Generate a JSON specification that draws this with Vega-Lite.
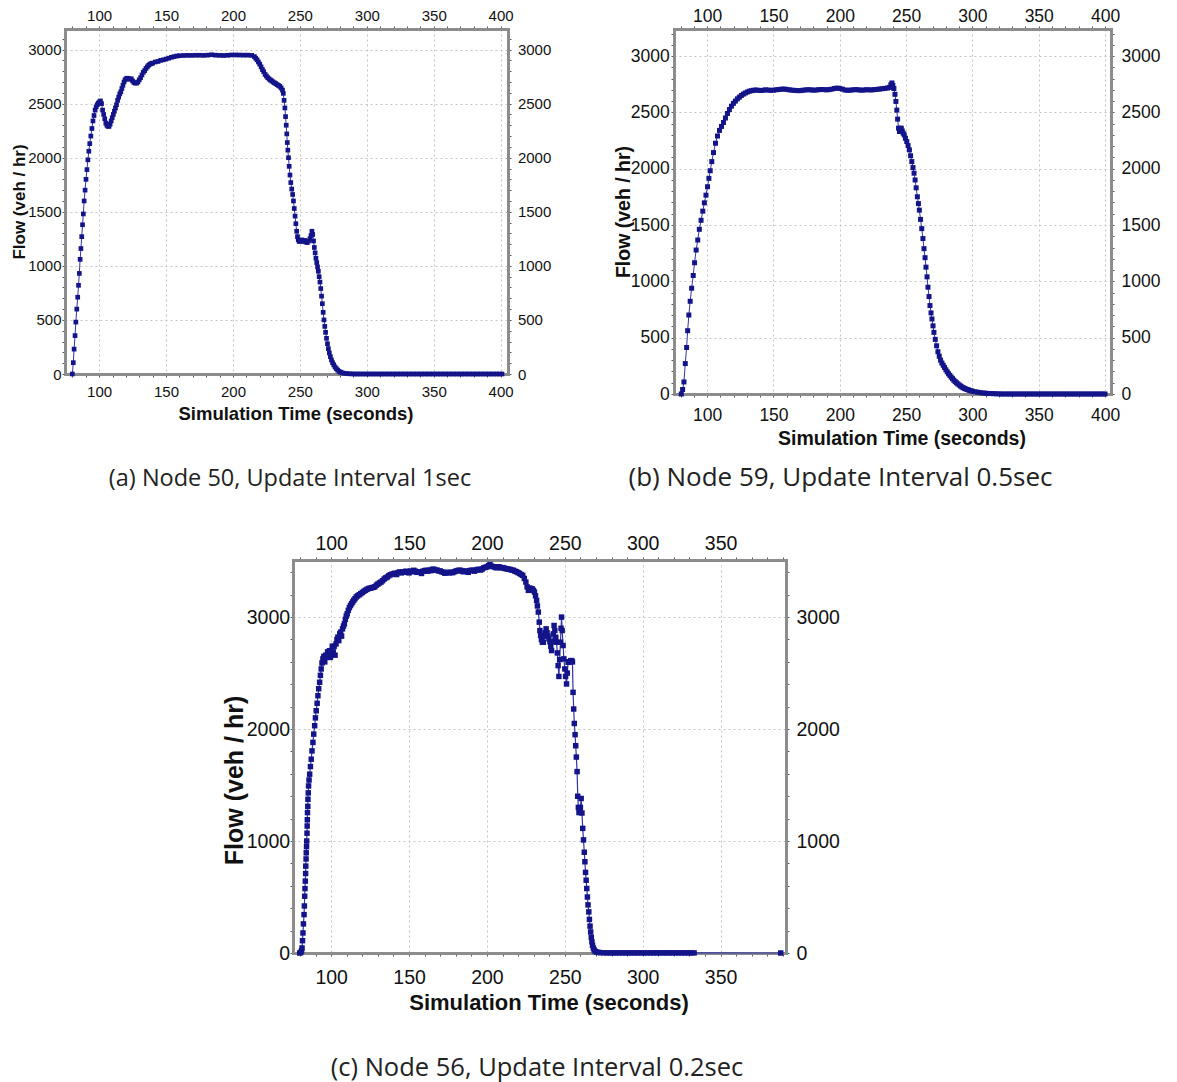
{
"$schema": "https://vega.github.io/schema/vega-lite/v6.json",
"background": "white",
"padding": {"left": 10, "top": 7, "right": 5, "bottom": 5},
"config": {
 "view": {"stroke": null},
 "axis": {"domainColor": "#8c8c8c", "domainWidth": 3, "domainCap": "square", "gridColor": "#c4c4c4", "gridDash": [2, 3], "gridWidth": 1, "tickColor": "#555555", "tickSize": 3, "tickWidth": 1, "labelColor": "#111111", "labelFont": "Liberation Sans", "titleFont": "Liberation Sans", "titleFontWeight": "bold", "titleColor": "#111111", "labelOverlap": false, "labelFlush": false, "format": "d"},
 "title": {"font": "Open Sans", "fontWeight": "normal", "color": "#222222", "fontSize": 22, "orient": "bottom", "anchor": "middle", "frame": "group"}
},
"datasets": {
"a": [{"t":80,"f":0},{"t":80.7,"f":105},{"t":81.3,"f":230},{"t":82,"f":355},{"t":82.6,"f":480},{"t":83.3,"f":600},{"t":84,"f":710},{"t":84.6,"f":820},{"t":85.2,"f":930},{"t":85.8,"f":1060},{"t":86.4,"f":1160},{"t":87,"f":1270},{"t":87.6,"f":1380},{"t":88.2,"f":1480},{"t":88.8,"f":1600},{"t":89.5,"f":1700},{"t":90.2,"f":1800},{"t":90.9,"f":1890},{"t":91.6,"f":1980},{"t":92.3,"f":2060},{"t":93,"f":2130},{"t":93.8,"f":2200},{"t":94.6,"f":2270},{"t":95.4,"f":2340},{"t":96.2,"f":2390},{"t":97,"f":2440},{"t":97.8,"f":2470},{"t":98.6,"f":2490},{"t":99.4,"f":2505},{"t":100.2,"f":2515},{"t":101,"f":2525},{"t":101.8,"f":2500},{"t":102.6,"f":2440},{"t":103.4,"f":2400},{"t":104.2,"f":2360},{"t":105,"f":2320},{"t":105.8,"f":2300},{"t":106.6,"f":2290},{"t":107.4,"f":2290},{"t":108.2,"f":2310},{"t":109,"f":2340},{"t":109.8,"f":2370},{"t":110.6,"f":2400},{"t":111.4,"f":2430},{"t":112.2,"f":2460},{"t":113,"f":2490},{"t":113.8,"f":2530},{"t":114.6,"f":2560},{"t":115.4,"f":2590},{"t":116.2,"f":2610},{"t":117,"f":2640},{"t":117.8,"f":2670},{"t":118.6,"f":2700},{"t":119.4,"f":2720},{"t":120.2,"f":2730},{"t":121,"f":2735},{"t":122,"f":2730},{"t":123,"f":2725},{"t":124,"f":2730},{"t":125,"f":2710},{"t":126,"f":2695},{"t":127,"f":2690},{"t":128,"f":2690},{"t":129,"f":2700},{"t":130,"f":2720},{"t":131,"f":2740},{"t":132,"f":2765},{"t":133,"f":2790},{"t":134,"f":2805},{"t":135,"f":2825},{"t":136,"f":2840},{"t":137,"f":2855},{"t":138,"f":2865},{"t":139,"f":2870},{"t":140,"f":2875},{"t":142,"f":2885},{"t":144,"f":2890},{"t":146,"f":2900},{"t":148,"f":2905},{"t":150,"f":2912},{"t":152,"f":2920},{"t":154,"f":2928},{"t":156,"f":2935},{"t":158,"f":2940},{"t":160,"f":2943},{"t":163,"f":2945},{"t":166,"f":2946},{"t":169,"f":2946},{"t":172,"f":2947},{"t":175,"f":2947},{"t":178,"f":2946},{"t":181,"f":2948},{"t":184,"f":2952},{"t":187,"f":2948},{"t":190,"f":2946},{"t":193,"f":2945},{"t":196,"f":2947},{"t":199,"f":2950},{"t":202,"f":2950},{"t":205,"f":2949},{"t":208,"f":2948},{"t":211,"f":2948},{"t":214,"f":2946},{"t":216,"f":2935},{"t":217,"f":2920},{"t":218,"f":2905},{"t":219,"f":2885},{"t":220,"f":2865},{"t":221,"f":2840},{"t":222,"f":2815},{"t":223,"f":2795},{"t":224,"f":2770},{"t":225,"f":2755},{"t":226,"f":2740},{"t":227,"f":2728},{"t":228,"f":2718},{"t":229,"f":2710},{"t":230,"f":2700},{"t":231,"f":2692},{"t":232,"f":2685},{"t":233,"f":2676},{"t":234,"f":2668},{"t":235,"f":2660},{"t":236,"f":2645},{"t":237,"f":2625},{"t":237.6,"f":2595},{"t":238.2,"f":2530},{"t":238.8,"f":2460},{"t":239.3,"f":2380},{"t":239.8,"f":2300},{"t":240.2,"f":2220},{"t":240.6,"f":2140},{"t":241,"f":2070},{"t":241.5,"f":2000},{"t":242,"f":1920},{"t":242.6,"f":1840},{"t":243.2,"f":1770},{"t":243.9,"f":1710},{"t":244.6,"f":1660},{"t":245.2,"f":1600},{"t":245.8,"f":1530},{"t":246.4,"f":1460},{"t":247,"f":1390},{"t":247.6,"f":1320},{"t":248.2,"f":1270},{"t":248.8,"f":1240},{"t":249.5,"f":1225},{"t":250.5,"f":1230},{"t":251.5,"f":1240},{"t":252.5,"f":1225},{"t":253.5,"f":1235},{"t":254.5,"f":1220},{"t":255.5,"f":1215},{"t":256.5,"f":1230},{"t":257.5,"f":1250},{"t":258.3,"f":1280},{"t":259,"f":1320},{"t":259.6,"f":1290},{"t":260.2,"f":1230},{"t":260.8,"f":1170},{"t":261.4,"f":1120},{"t":262,"f":1070},{"t":262.6,"f":1030},{"t":263.2,"f":990},{"t":263.8,"f":950},{"t":264.4,"f":900},{"t":265,"f":850},{"t":265.6,"f":790},{"t":266.2,"f":720},{"t":266.8,"f":650},{"t":267.4,"f":570},{"t":268,"f":500},{"t":268.6,"f":440},{"t":269.2,"f":385},{"t":269.9,"f":330},{"t":270.6,"f":280},{"t":271.3,"f":235},{"t":272,"f":195},{"t":272.8,"f":160},{"t":273.6,"f":130},{"t":274.4,"f":105},{"t":275.3,"f":85},{"t":276.2,"f":65},{"t":277.2,"f":50},{"t":278.2,"f":36},{"t":279.2,"f":25},{"t":280.3,"f":17},{"t":281.5,"f":11},{"t":283,"f":7},{"t":285,"f":4},{"t":287,"f":2},{"t":289,"f":1},{"t":291,"f":0},{"t":293,"f":0},{"t":295,"f":0},{"t":297,"f":0},{"t":299,"f":0},{"t":301,"f":0},{"t":303,"f":0},{"t":305,"f":0},{"t":307,"f":0},{"t":309,"f":0},{"t":311,"f":0},{"t":313,"f":0},{"t":315,"f":0},{"t":317,"f":0},{"t":319,"f":0},{"t":321,"f":0},{"t":323,"f":0},{"t":325,"f":0},{"t":327,"f":0},{"t":329,"f":0},{"t":331,"f":0},{"t":333,"f":0},{"t":335,"f":0},{"t":337,"f":0},{"t":339,"f":0},{"t":341,"f":0},{"t":343,"f":0},{"t":345,"f":0},{"t":347,"f":0},{"t":349,"f":0},{"t":351,"f":0},{"t":353,"f":0},{"t":355,"f":0},{"t":357,"f":0},{"t":359,"f":0},{"t":361,"f":0},{"t":363,"f":0},{"t":365,"f":0},{"t":367,"f":0},{"t":369,"f":0},{"t":371,"f":0},{"t":373,"f":0},{"t":375,"f":0},{"t":377,"f":0},{"t":379,"f":0},{"t":381,"f":0},{"t":383,"f":0},{"t":385,"f":0},{"t":387,"f":0},{"t":389,"f":0},{"t":391,"f":0},{"t":393,"f":0},{"t":395,"f":0},{"t":397,"f":0},{"t":399,"f":0},{"t":401,"f":0}],
"b": [{"t":80.5,"f":0},{"t":81.5,"f":40},{"t":82.5,"f":107},{"t":83.5,"f":270},{"t":84.5,"f":413},{"t":85.3,"f":562},{"t":86.2,"f":701},{"t":87.2,"f":823},{"t":88.3,"f":939},{"t":89.5,"f":1052},{"t":90.5,"f":1165},{"t":91.7,"f":1278},{"t":92.9,"f":1367},{"t":94.1,"f":1462},{"t":95.4,"f":1542},{"t":96.7,"f":1623},{"t":97.9,"f":1697},{"t":99.1,"f":1765},{"t":100.3,"f":1840},{"t":101.3,"f":1914},{"t":102.3,"f":1982},{"t":103.5,"f":2063},{"t":104.8,"f":2143},{"t":106.3,"f":2226},{"t":107.8,"f":2290},{"t":109.3,"f":2340},{"t":110.8,"f":2375},{"t":112.3,"f":2410},{"t":113.8,"f":2450},{"t":115.3,"f":2490},{"t":116.8,"f":2525},{"t":118.3,"f":2555},{"t":119.8,"f":2580},{"t":121.3,"f":2600},{"t":122.8,"f":2620},{"t":124.3,"f":2635},{"t":125.8,"f":2650},{"t":127.3,"f":2662},{"t":128.8,"f":2672},{"t":130.3,"f":2681},{"t":131.8,"f":2688},{"t":133.3,"f":2692},{"t":134.8,"f":2696},{"t":136.3,"f":2698},{"t":138,"f":2697},{"t":140,"f":2694},{"t":142,"f":2696},{"t":144,"f":2700},{"t":146,"f":2698},{"t":148,"f":2695},{"t":150,"f":2697},{"t":152,"f":2700},{"t":154,"f":2703},{"t":156,"f":2706},{"t":158,"f":2707},{"t":160,"f":2704},{"t":162,"f":2700},{"t":164,"f":2697},{"t":166,"f":2695},{"t":168,"f":2693},{"t":170,"f":2693},{"t":172,"f":2696},{"t":174,"f":2699},{"t":176,"f":2701},{"t":178,"f":2700},{"t":180,"f":2697},{"t":182,"f":2698},{"t":184,"f":2701},{"t":186,"f":2703},{"t":188,"f":2702},{"t":190,"f":2700},{"t":192,"f":2702},{"t":194,"f":2706},{"t":196,"f":2712},{"t":198,"f":2716},{"t":200,"f":2712},{"t":202,"f":2706},{"t":204,"f":2698},{"t":206,"f":2696},{"t":208,"f":2697},{"t":210,"f":2700},{"t":212,"f":2702},{"t":214,"f":2700},{"t":216,"f":2697},{"t":218,"f":2698},{"t":220,"f":2701},{"t":222,"f":2700},{"t":224,"f":2699},{"t":226,"f":2702},{"t":228,"f":2704},{"t":230,"f":2707},{"t":232,"f":2710},{"t":234,"f":2713},{"t":236,"f":2716},{"t":237.5,"f":2722},{"t":238.5,"f":2745},{"t":239.3,"f":2761},{"t":240,"f":2740},{"t":240.8,"f":2712},{"t":241.6,"f":2660},{"t":242.3,"f":2597},{"t":243,"f":2520},{"t":243.6,"f":2440},{"t":244.3,"f":2360},{"t":245,"f":2330},{"t":245.7,"f":2345},{"t":246.4,"f":2360},{"t":247.1,"f":2335},{"t":247.8,"f":2315},{"t":248.6,"f":2300},{"t":249.5,"f":2270},{"t":250.5,"f":2241},{"t":251.5,"f":2205},{"t":252.5,"f":2167},{"t":253.4,"f":2115},{"t":254.3,"f":2063},{"t":255.2,"f":2010},{"t":256,"f":1960},{"t":256.8,"f":1900},{"t":257.6,"f":1830},{"t":258.5,"f":1751},{"t":259.3,"f":1690},{"t":260,"f":1632},{"t":260.9,"f":1550},{"t":261.8,"f":1468},{"t":262.7,"f":1380},{"t":263.5,"f":1290},{"t":264.3,"f":1210},{"t":265,"f":1126},{"t":265.8,"f":1040},{"t":266.5,"f":948},{"t":267.3,"f":865},{"t":268,"f":785},{"t":268.8,"f":720},{"t":269.5,"f":666},{"t":270.3,"f":605},{"t":271,"f":547},{"t":272,"f":485},{"t":273,"f":428},{"t":274,"f":375},{"t":275,"f":335},{"t":276,"f":300},{"t":277,"f":275},{"t":278,"f":255},{"t":279,"f":235},{"t":280,"f":215},{"t":281,"f":197},{"t":282,"f":180},{"t":283,"f":165},{"t":284,"f":150},{"t":285,"f":136},{"t":286,"f":122},{"t":287,"f":110},{"t":288,"f":100},{"t":289,"f":90},{"t":290,"f":80},{"t":291,"f":71},{"t":292,"f":63},{"t":293,"f":56},{"t":294,"f":50},{"t":295,"f":45},{"t":296,"f":40},{"t":297,"f":36},{"t":298,"f":32},{"t":299,"f":28},{"t":300,"f":25},{"t":302,"f":20},{"t":304,"f":16},{"t":306,"f":12},{"t":308,"f":9},{"t":310,"f":7},{"t":312,"f":5},{"t":314,"f":4},{"t":316,"f":3},{"t":318,"f":2},{"t":320,"f":1},{"t":322,"f":0},{"t":324,"f":0},{"t":326,"f":0},{"t":328,"f":0},{"t":330,"f":0},{"t":332,"f":0},{"t":334,"f":0},{"t":336,"f":0},{"t":338,"f":0},{"t":340,"f":0},{"t":342,"f":0},{"t":344,"f":0},{"t":346,"f":0},{"t":348,"f":0},{"t":350,"f":0},{"t":352,"f":0},{"t":354,"f":0},{"t":356,"f":0},{"t":358,"f":0},{"t":360,"f":0},{"t":362,"f":0},{"t":364,"f":0},{"t":366,"f":0},{"t":368,"f":0},{"t":370,"f":0},{"t":372,"f":0},{"t":374,"f":0},{"t":376,"f":0},{"t":378,"f":0},{"t":380,"f":0},{"t":382,"f":0},{"t":384,"f":0},{"t":386,"f":0},{"t":388,"f":0},{"t":390,"f":0},{"t":392,"f":0},{"t":394,"f":0},{"t":396,"f":0},{"t":398,"f":0},{"t":400,"f":0}],
"c": [{"t":79.8,"f":0},{"t":80.5,"f":5},{"t":81,"f":20},{"t":81.3,"f":45},{"t":81.6,"f":110},{"t":81.9,"f":179},{"t":82.2,"f":260},{"t":82.6,"f":343},{"t":82.8,"f":420},{"t":83,"f":507},{"t":83.2,"f":575},{"t":83.4,"f":642},{"t":83.6,"f":710},{"t":83.7,"f":776},{"t":83.9,"f":840},{"t":84,"f":895},{"t":84.2,"f":950},{"t":84.3,"f":1000},{"t":84.5,"f":1070},{"t":84.6,"f":1134},{"t":84.7,"f":1190},{"t":84.8,"f":1254},{"t":85,"f":1310},{"t":85.1,"f":1373},{"t":85.3,"f":1430},{"t":85.5,"f":1492},{"t":85.8,"f":1545},{"t":86.2,"f":1597},{"t":86.7,"f":1665},{"t":87.2,"f":1731},{"t":87.7,"f":1805},{"t":88.3,"f":1881},{"t":88.8,"f":1955},{"t":89.4,"f":2030},{"t":89.9,"f":2100},{"t":90.4,"f":2164},{"t":91,"f":2230},{"t":91.5,"f":2298},{"t":92,"f":2360},{"t":92.6,"f":2418},{"t":93.1,"f":2480},{"t":93.6,"f":2537},{"t":94.1,"f":2590},{"t":94.7,"f":2627},{"t":95.3,"f":2650},{"t":95.9,"f":2600},{"t":96.5,"f":2660},{"t":97.1,"f":2640},{"t":97.7,"f":2690},{"t":98.3,"f":2660},{"t":98.9,"f":2700},{"t":99.5,"f":2640},{"t":100.1,"f":2700},{"t":100.7,"f":2740},{"t":101.3,"f":2680},{"t":101.9,"f":2740},{"t":102.5,"f":2660},{"t":103.1,"f":2760},{"t":103.7,"f":2800},{"t":104.3,"f":2821},{"t":104.9,"f":2790},{"t":105.5,"f":2850},{"t":106.1,"f":2866},{"t":106.7,"f":2830},{"t":107.3,"f":2895},{"t":107.9,"f":2920},{"t":108.5,"f":2940},{"t":109.1,"f":2980},{"t":109.7,"f":3010},{"t":110.3,"f":3030},{"t":111,"f":3060},{"t":111.7,"f":3085},{"t":112.4,"f":3104},{"t":113.1,"f":3120},{"t":113.8,"f":3135},{"t":114.5,"f":3150},{"t":115.3,"f":3164},{"t":116.1,"f":3180},{"t":117,"f":3190},{"t":118,"f":3200},{"t":119,"f":3209},{"t":120,"f":3220},{"t":121,"f":3230},{"t":122,"f":3240},{"t":123,"f":3248},{"t":124,"f":3255},{"t":125,"f":3258},{"t":126,"f":3262},{"t":127,"f":3266},{"t":128,"f":3270},{"t":129,"f":3285},{"t":130,"f":3295},{"t":131,"f":3305},{"t":132,"f":3313},{"t":133,"f":3325},{"t":134,"f":3340},{"t":135,"f":3350},{"t":136,"f":3358},{"t":137,"f":3370},{"t":138,"f":3378},{"t":139,"f":3383},{"t":140,"f":3388},{"t":141,"f":3392},{"t":142,"f":3380},{"t":143,"f":3398},{"t":144,"f":3403},{"t":145,"f":3395},{"t":146,"f":3405},{"t":147,"f":3400},{"t":148,"f":3410},{"t":149,"f":3403},{"t":150,"f":3395},{"t":151,"f":3412},{"t":152,"f":3405},{"t":153,"f":3418},{"t":154,"f":3410},{"t":155,"f":3400},{"t":156,"f":3405},{"t":157,"f":3403},{"t":158,"f":3390},{"t":159,"f":3410},{"t":160,"f":3415},{"t":161,"f":3418},{"t":162,"f":3410},{"t":163,"f":3420},{"t":164,"f":3415},{"t":165,"f":3427},{"t":166,"f":3427},{"t":167,"f":3418},{"t":168,"f":3420},{"t":169,"f":3412},{"t":170,"f":3412},{"t":171,"f":3405},{"t":172,"f":3400},{"t":173,"f":3392},{"t":174,"f":3397},{"t":175,"f":3400},{"t":176,"f":3395},{"t":177,"f":3400},{"t":178,"f":3397},{"t":179,"f":3405},{"t":180,"f":3410},{"t":181,"f":3415},{"t":182,"f":3418},{"t":183,"f":3418},{"t":184,"f":3410},{"t":185,"f":3405},{"t":186,"f":3412},{"t":187,"f":3409},{"t":188,"f":3400},{"t":189,"f":3415},{"t":190,"f":3418},{"t":191,"f":3418},{"t":192,"f":3410},{"t":193,"f":3420},{"t":194,"f":3425},{"t":195,"f":3427},{"t":196,"f":3420},{"t":197,"f":3430},{"t":198,"f":3440},{"t":199,"f":3445},{"t":200,"f":3448},{"t":201,"f":3460},{"t":202,"f":3469},{"t":203,"f":3455},{"t":204,"f":3450},{"t":205,"f":3448},{"t":206,"f":3440},{"t":207,"f":3450},{"t":208,"f":3448},{"t":209,"f":3440},{"t":210,"f":3442},{"t":211,"f":3438},{"t":212,"f":3433},{"t":213,"f":3430},{"t":214,"f":3428},{"t":215,"f":3425},{"t":216,"f":3420},{"t":217,"f":3418},{"t":218,"f":3410},{"t":219,"f":3405},{"t":220,"f":3397},{"t":221,"f":3390},{"t":222,"f":3380},{"t":223,"f":3373},{"t":224,"f":3345},{"t":225,"f":3313},{"t":225.8,"f":3270},{"t":226.6,"f":3239},{"t":227.4,"f":3260},{"t":228.2,"f":3250},{"t":229,"f":3254},{"t":229.8,"f":3240},{"t":230.5,"f":3224},{"t":231.2,"f":3190},{"t":231.9,"f":3149},{"t":232.4,"f":3100},{"t":233,"f":3045},{"t":233.6,"f":2955},{"t":234,"f":2880},{"t":234.5,"f":2836},{"t":235,"f":2800},{"t":235.6,"f":2776},{"t":236.2,"f":2776},{"t":236.8,"f":2830},{"t":237.4,"f":2860},{"t":238,"f":2895},{"t":238.6,"f":2860},{"t":239.2,"f":2830},{"t":239.8,"f":2806},{"t":240.4,"f":2780},{"t":241,"f":2740},{"t":241.5,"f":2701},{"t":242,"f":2780},{"t":242.6,"f":2850},{"t":243.1,"f":2925},{"t":243.6,"f":2880},{"t":244.2,"f":2820},{"t":244.7,"f":2776},{"t":245.2,"f":2680},{"t":245.7,"f":2567},{"t":246.2,"f":2470},{"t":246.7,"f":2620},{"t":247.2,"f":2776},{"t":247.6,"f":2900},{"t":247.9,"f":3000},{"t":248.3,"f":2880},{"t":248.9,"f":2746},{"t":249.4,"f":2627},{"t":250,"f":2537},{"t":250.5,"f":2470},{"t":251.1,"f":2403},{"t":251.6,"f":2500},{"t":252.1,"f":2597},{"t":252.6,"f":2600},{"t":253.2,"f":2600},{"t":253.8,"f":2610},{"t":254.4,"f":2612},{"t":254.9,"f":2600},{"t":255.3,"f":2328},{"t":255.7,"f":2179},{"t":256.1,"f":2050},{"t":256.6,"f":1950},{"t":257,"f":1851},{"t":257.4,"f":1750},{"t":257.9,"f":1620},{"t":258.3,"f":1400},{"t":258.7,"f":1300},{"t":259.1,"f":1254},{"t":259.5,"f":1290},{"t":260,"f":1300},{"t":260.5,"f":1380},{"t":261,"f":1250},{"t":261.5,"f":1113},{"t":262,"f":1010},{"t":262.5,"f":900},{"t":262.9,"f":815},{"t":263.3,"f":720},{"t":263.7,"f":650},{"t":264.1,"f":576},{"t":264.5,"f":500},{"t":264.9,"f":430},{"t":265.4,"f":367},{"t":265.8,"f":300},{"t":266.2,"f":240},{"t":266.6,"f":188},{"t":267,"f":140},{"t":267.4,"f":100},{"t":267.8,"f":69},{"t":268.3,"f":45},{"t":268.8,"f":28},{"t":269.5,"f":15},{"t":270.5,"f":8},{"t":271.5,"f":5},{"t":273,"f":3},{"t":275,"f":2},{"t":277,"f":1},{"t":279,"f":1},{"t":281,"f":1},{"t":283,"f":1},{"t":285,"f":1},{"t":287,"f":1},{"t":289,"f":1},{"t":291,"f":1},{"t":293,"f":1},{"t":295,"f":1},{"t":297,"f":1},{"t":299,"f":1},{"t":301,"f":1},{"t":303,"f":1},{"t":305,"f":1},{"t":307,"f":1},{"t":309,"f":1},{"t":311,"f":1},{"t":313,"f":1},{"t":315,"f":1},{"t":317,"f":1},{"t":319,"f":1},{"t":321,"f":1},{"t":323,"f":1},{"t":325,"f":1},{"t":327,"f":1},{"t":329,"f":1},{"t":331,"f":1},{"t":333,"f":1},{"t":388.6,"f":0}]
},
"spacing": 42,
"vconcat": [
 {"hconcat": [
  {"width": 443, "height": 345, "data": {"name": "a"},
   "title": {"text": "(a) Node 50, Update Interval 1sec", "offset": 44, "dx": 3.5, "fontSize": 23.5},
   "resolve": {"axis": {"x": "independent", "y": "independent"}},
   "layer": [
    {"mark": {"type": "line", "color": "#3434a6", "strokeWidth": 1, "point": {"shape": "square", "size": 22, "filled": true, "color": "#14148a", "opacity": 1}},
     "encoding": {
      "x": {"field": "t", "type": "quantitative", "scale": {"domain": [74.5, 405.5], "nice": false, "zero": false},
       "axis": {"orient": "bottom", "title": "Simulation Time (seconds)", "titleFontSize": 18.5, "titleX": 230.5, "titleY": 30, "titleBaseline": "top", "labelFontSize": 15, "labelPadding": 7.5, "labelDx": 5, "grid": true,
        "values": [80,90,100,110,120,130,140,150,160,170,180,190,200,210,220,230,240,250,260,270,280,290,300,310,320,330,340,350,360,370,380,390,400],
        "labelExpr": "datum.value % 50 === 0 ? datum.label : ''",
        "gridOpacity": {"condition": {"test": "datum.value % 50 === 0", "value": 1}, "value": 0}}},
      "y": {"field": "f", "type": "quantitative", "scale": {"domain": [0, 3190], "nice": false},
       "axis": {"orient": "left", "title": "Flow (veh / hr)", "titleFontSize": 17, "titleX": -36.5, "titleBaseline": "bottom", "labelFontSize": 15, "labelPadding": 1, "grid": true,
        "values": [0,100,200,300,400,500,600,700,800,900,1000,1100,1200,1300,1400,1500,1600,1700,1800,1900,2000,2100,2200,2300,2400,2500,2600,2700,2800,2900,3000,3100],
        "labelExpr": "datum.value % 500 === 0 ? datum.label : ''",
        "gridOpacity": {"condition": {"test": "datum.value % 500 === 0", "value": 1}, "value": 0}}}
     }},
    {"mark": {"type": "point", "opacity": 0},
     "encoding": {
      "x": {"field": "t", "type": "quantitative", "scale": {"domain": [74.5, 405.5], "nice": false, "zero": false},
       "axis": {"orient": "top", "title": null, "labelFontSize": 15, "labelPadding": 3, "labelDx": 5, "grid": false,
        "values": [80,90,100,110,120,130,140,150,160,170,180,190,200,210,220,230,240,250,260,270,280,290,300,310,320,330,340,350,360,370,380,390,400],
        "labelExpr": "datum.value % 50 === 0 ? datum.label : ''"}},
      "y": {"field": "f", "type": "quantitative", "scale": {"domain": [0, 3190], "nice": false},
       "axis": {"orient": "right", "title": null, "labelFontSize": 15, "labelPadding": 6.4, "grid": false,
        "values": [0,100,200,300,400,500,600,700,800,900,1000,1100,1200,1300,1400,1500,1600,1700,1800,1900,2000,2100,2200,2300,2400,2500,2600,2700,2800,2900,3000,3100],
        "labelExpr": "datum.value % 500 === 0 ? datum.label : ''"}}
     }}
   ]},
  {"width": 437, "height": 365, "data": {"name": "b"},
   "title": {"text": "(b) Node 59, Update Interval 0.5sec", "offset": 17, "dx": -52, "fontSize": 26},
   "resolve": {"axis": {"x": "independent", "y": "independent"}},
   "layer": [
    {"mark": {"type": "line", "color": "#3434a6", "strokeWidth": 1, "point": {"shape": "square", "size": 25, "filled": true, "color": "#14148a", "opacity": 1}},
     "encoding": {
      "x": {"field": "t", "type": "quantitative", "scale": {"domain": [75, 404.5], "nice": false, "zero": false},
       "axis": {"orient": "bottom", "title": "Simulation Time (seconds)", "titleFontSize": 19.5, "titleX": 227.5, "titleY": 35, "titleBaseline": "top", "labelFontSize": 17.5, "labelPadding": 9.5, "labelDx": 5, "grid": true,
        "values": [80,90,100,110,120,130,140,150,160,170,180,190,200,210,220,230,240,250,260,270,280,290,300,310,320,330,340,350,360,370,380,390,400],
        "labelExpr": "datum.value % 50 === 0 ? datum.label : ''",
        "gridOpacity": {"condition": {"test": "datum.value % 50 === 0", "value": 1}, "value": 0}}},
      "y": {"field": "f", "type": "quantitative", "scale": {"domain": [0, 3240], "nice": false},
       "axis": {"orient": "left", "title": "Flow (veh / hr)", "titleFontSize": 19.5, "titleX": -41, "titleBaseline": "bottom", "labelFontSize": 17.5, "labelPadding": 1.7, "grid": true,
        "values": [0,100,200,300,400,500,600,700,800,900,1000,1100,1200,1300,1400,1500,1600,1700,1800,1900,2000,2100,2200,2300,2400,2500,2600,2700,2800,2900,3000,3100,3200],
        "labelExpr": "datum.value % 500 === 0 ? datum.label : ''",
        "gridOpacity": {"condition": {"test": "datum.value % 500 === 0", "value": 1}, "value": 0}}}
     }},
    {"mark": {"type": "point", "opacity": 0},
     "encoding": {
      "x": {"field": "t", "type": "quantitative", "scale": {"domain": [75, 404.5], "nice": false, "zero": false},
       "axis": {"orient": "top", "title": null, "labelFontSize": 17.5, "labelPadding": 1, "labelDx": 5, "grid": false,
        "values": [80,90,100,110,120,130,140,150,160,170,180,190,200,210,220,230,240,250,260,270,280,290,300,310,320,330,340,350,360,370,380,390,400],
        "labelExpr": "datum.value % 50 === 0 ? datum.label : ''"}},
      "y": {"field": "f", "type": "quantitative", "scale": {"domain": [0, 3240], "nice": false},
       "axis": {"orient": "right", "title": null, "labelFontSize": 17.5, "labelPadding": 7, "grid": false,
        "values": [0,100,200,300,400,500,600,700,800,900,1000,1100,1200,1300,1400,1500,1600,1700,1800,1900,2000,2100,2200,2300,2400,2500,2600,2700,2800,2900,3000,3100,3200],
        "labelExpr": "datum.value % 500 === 0 ? datum.label : ''"}}
     }}
   ]}
 ], "spacing": 166, "bounds": "flush"},
 {"hconcat": [
  {"width": 62, "height": 10, "data": {"values": [{"k": 1}]}, "mark": {"type": "text"}, "encoding": {"text": {"value": ""}}},
  {"width": 493, "height": 393, "data": {"name": "c"},
   "title": {"text": "(c) Node 56, Update Interval 0.2sec", "offset": 42.7, "dx": -2.5, "fontSize": 25.5},
   "resolve": {"axis": {"x": "independent", "y": "independent"}},
   "layer": [
    {"mark": {"type": "line", "color": "#3434a6", "strokeWidth": 1.2, "point": {"shape": "square", "size": 30, "filled": true, "color": "#14148a", "opacity": 1}},
     "encoding": {
      "x": {"field": "t", "type": "quantitative", "scale": {"domain": [75.5, 392], "nice": false, "zero": false},
       "axis": {"orient": "bottom", "title": "Simulation Time (seconds)", "titleFontSize": 22, "titleX": 255.5, "titleY": 39, "titleBaseline": "top", "labelFontSize": 19.5, "labelPadding": 12, "labelDx": 5, "grid": true,
        "values": [80,90,100,110,120,130,140,150,160,170,180,190,200,210,220,230,240,250,260,270,280,290,300,310,320,330,340,350,360,370,380,390],
        "labelExpr": "datum.value % 50 === 0 ? datum.label : ''",
        "gridOpacity": {"condition": {"test": "datum.value % 50 === 0", "value": 1}, "value": 0}}},
      "y": {"field": "f", "type": "quantitative", "scale": {"domain": [0, 3510], "nice": false},
       "axis": {"orient": "left", "title": "Flow (veh / hr)", "titleFontSize": 25, "titleX": -46, "titleY": 220, "titleBaseline": "bottom", "labelFontSize": 19.5, "labelPadding": 0.4, "grid": true,
        "values": [0,200,400,600,800,1000,1200,1400,1600,1800,2000,2200,2400,2600,2800,3000,3200,3400],
        "labelExpr": "datum.value % 1000 === 0 ? datum.label : ''",
        "gridOpacity": {"condition": {"test": "datum.value % 1000 === 0", "value": 1}, "value": 0}}}
     }},
    {"mark": {"type": "point", "opacity": 0},
     "encoding": {
      "x": {"field": "t", "type": "quantitative", "scale": {"domain": [75.5, 392], "nice": false, "zero": false},
       "axis": {"orient": "top", "title": null, "labelFontSize": 19.5, "labelPadding": 4, "labelDx": 5, "grid": false,
        "values": [80,90,100,110,120,130,140,150,160,170,180,190,200,210,220,230,240,250,260,270,280,290,300,310,320,330,340,350,360,370,380,390],
        "labelExpr": "datum.value % 50 === 0 ? datum.label : ''"}},
      "y": {"field": "f", "type": "quantitative", "scale": {"domain": [0, 3510], "nice": false},
       "axis": {"orient": "right", "title": null, "labelFontSize": 19.5, "labelPadding": 7, "grid": false,
        "values": [0,200,400,600,800,1000,1200,1400,1600,1800,2000,2200,2400,2600,2800,3000,3200,3400],
        "labelExpr": "datum.value % 1000 === 0 ? datum.label : ''"}}
     }}
   ]}
 ], "spacing": 166, "bounds": "flush"}
]
}
